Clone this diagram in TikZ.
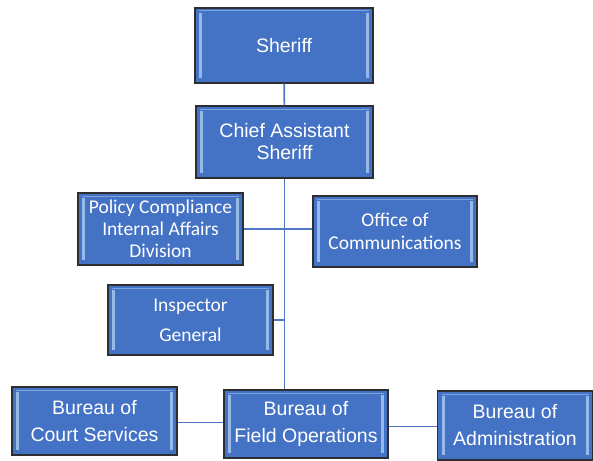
\documentclass[tikz,border=0pt]{standalone}
\usepackage{fontspec}
\setmainfont{Liberation Sans}
\newfontfamily\calfont{Carlito}
\usepackage{xcolor}
\usetikzlibrary{positioning}

\definecolor{boxblue}{RGB}{68,114,196}
\definecolor{bevel}{RGB}{150,185,232}
\definecolor{edge}{RGB}{45,45,50}
\definecolor{linkblue}{RGB}{80,118,196}

\tikzset{
  unit/.style={draw=edge, line width=1.2pt, fill=boxblue, text=white, align=center,
    inner sep=0pt, font=\fontsize{19.5}{22}\selectfont,
    path picture={
      \fill[bevel] ([xshift=4pt,yshift=-5pt]path picture bounding box.north west)
        rectangle ([xshift=7pt,yshift=5pt]path picture bounding box.south west);
      \fill[bevel] ([xshift=-4pt,yshift=-5pt]path picture bounding box.north east)
        rectangle ([xshift=-7pt,yshift=5pt]path picture bounding box.south east);
      \draw[bevel!70!boxblue, line width=1pt] ([xshift=4pt,yshift=-3pt]path picture bounding box.north west)
        -- ([xshift=-4pt,yshift=-3pt]path picture bounding box.north east);
    }},
  cal/.style={font=\calfont\fontsize{19.5}{22}\selectfont},
  link/.style={draw=linkblue, line width=1.6pt}
}

\begin{document}
\begin{tikzpicture}[x=1pt,y=-1pt]
    \useasboundingbox (0,0) rectangle (593,460);

    \node[unit, minimum width=178pt, minimum height=75pt] (sheriff) at (284,45.5) {Sheriff};
    \node[unit, minimum width=177pt, minimum height=72pt] (chief) at (284.5,142) {Chief Assistant\\Sheriff};

    \node[unit, cal, minimum width=165pt, minimum height=72pt] (policy) at (160.5,229) {Policy Compliance\\Internal Affairs\\Division};
    \node[unit, cal, font=\calfont\fontsize{19.5}{23}\selectfont, minimum width=164pt, minimum height=71pt] (office) at (395,231.5) {Office of\\Communications};
    \node[unit, cal, font=\calfont\fontsize{19.5}{30}\selectfont, minimum width=165pt, minimum height=70pt] (inspector) at (190.5,320) {Inspector\\General};

    \node[unit, font=\fontsize{19.5}{27}\selectfont, minimum width=165pt, minimum height=68pt] (court) at (94.5,421) {Bureau of\\Court Services};
    \node[unit, font=\fontsize{19.5}{27}\selectfont, minimum width=164pt, minimum height=68pt] (fieldops) at (306,424) {Bureau of\\Field Operations};
    \node[unit, font=\fontsize{19.5}{27}\selectfont, minimum width=155pt, minimum height=69pt] (admin) at (515,425.5) {Bureau of\\Administration};

    % connectors
    \draw[link] (sheriff) -- (chief);
    \draw[link] (chief.south) -- (chief.south |- fieldops.north);
    \draw[link] (policy.east) -- (policy.east -| office.west);
    \draw[link] (inspector.east) -- (inspector.east -| chief.south);
    \draw[link] ([yshift=-1.5pt]court.east) -- ([yshift=-1.5pt]court.east -| fieldops.west);
    \draw[link] ([yshift=-1pt]admin.west -| fieldops.east) -- ([yshift=-1pt]admin.west);
\end{tikzpicture}
\end{document}
